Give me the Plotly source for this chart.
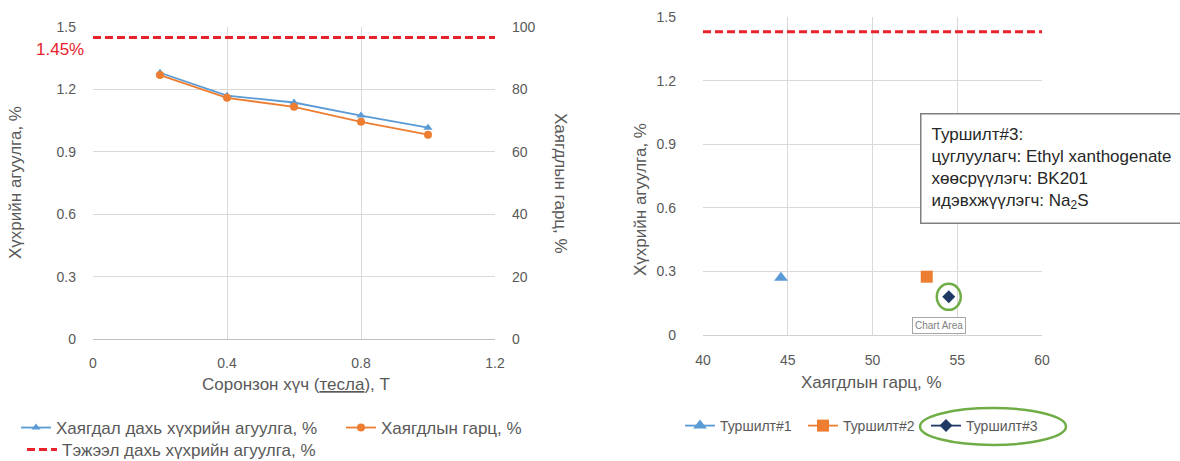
import plotly.graph_objects as go

W, H = 1180, 461

# ---- data: left panel (magnetic field strength series)
field_T = [0.2, 0.4, 0.6, 0.8, 1.0]
sulfur_tailings = [1.28, 1.17, 1.137, 1.074, 1.016]     # %, left axis
tailings_yield = [84.6, 77.3, 74.4, 69.6, 65.5]         # %, right axis
feed_sulfur = 1.45                                       # %
feed_x = [0, 1.2]

# ---- data: right panel (reagent tests)
test_names = ["Туршилт#1", "Туршилт#2", "Туршилт#3"]
test_yield = [44.6, 53.2, 54.5]
test_sulfur = [0.27, 0.275, 0.18]
feed_sulfur_right = 1.43
feed_x_right = [40, 60]

BLUE = "#5B9BD5"
ORANGE = "#ED7D31"
NAVY = "#1F3864"
RED = "#E8222B"
GREEN = "#70AD47"
GRID = "#D9D9D9"
TXT = "#595959"
FONT = "Liberation Sans, Arial, sans-serif"


def px(x):
    return x / W


def py(y):
    return 1 - y / H


fig = go.Figure()

# left panel traces
fig.add_trace(go.Scatter(
    x=field_T, y=sulfur_tailings, mode="lines+markers",
    name="Хаягдал дахь хүхрийн агуулга, %",
    line=dict(color=BLUE, width=1.8),
    marker=dict(symbol="triangle-up", size=8, color=BLUE),
    xaxis="x", yaxis="y", legend="legend"))
fig.add_trace(go.Scatter(
    x=field_T, y=tailings_yield, mode="lines+markers",
    name="Хаягдлын гарц, %",
    line=dict(color=ORANGE, width=1.8),
    marker=dict(symbol="circle", size=8, color=ORANGE),
    xaxis="x", yaxis="y2", legend="legend"))
fig.add_trace(go.Scatter(
    x=feed_x, y=[feed_sulfur] * len(feed_x), mode="lines",
    name="Тэжээл дахь хүхрийн агуулга, %",
    line=dict(color=RED, width=3, dash="8px,4px"),
    xaxis="x", yaxis="y", legend="legend3"))

# right panel traces (single points; line style shows in the legend)
symbols = ["triangle-up", "square", "diamond"]
colors = [BLUE, ORANGE, NAVY]
sizes = [12, 12, 10]
for i, name in enumerate(test_names):
    fig.add_trace(go.Scatter(
        x=[test_yield[i]], y=[test_sulfur[i]], mode="lines+markers",
        name=name,
        line=dict(color=colors[i], width=1.8),
        marker=dict(symbol=symbols[i], size=sizes[i], color=colors[i],
                    line=dict(width=0)),
        xaxis="x2", yaxis="y3", legend="legend2"))
fig.add_trace(go.Scatter(
    x=feed_x_right, y=[feed_sulfur_right] * 2, mode="lines",
    line=dict(color=RED, width=3, dash="8px,4px"),
    showlegend=False, xaxis="x2", yaxis="y3"))

tick_font = dict(family=FONT, size=14, color=TXT)
axis_common = dict(showgrid=True, gridcolor=GRID, gridwidth=1, zeroline=False,
                   tickfont=tick_font, ticks="", fixedrange=True,
                   automargin=False)

fig.update_layout(
    width=W, height=H,
    margin=dict(l=0, r=0, t=0, b=0, autoexpand=False),
    paper_bgcolor="white", plot_bgcolor="white",
    font=dict(family=FONT, size=14, color=TXT),
    xaxis=dict(domain=[px(93), px(495)], range=[0, 1.2], dtick=0.4,
               anchor="y", showline=True, linecolor="#BFBFBF",
               ticklabelstandoff=11, tickformat="~g", **axis_common),
    yaxis=dict(domain=[py(339), py(27)], range=[0, 1.5], dtick=0.3,
               anchor="x", ticklabelstandoff=16, tickformat="~g", **axis_common),
    yaxis2=dict(range=[0, 100], dtick=20, overlaying="y", side="right",
                anchor="x", showgrid=False, zeroline=False, tickfont=tick_font,
                ticklabelstandoff=16, fixedrange=True, automargin=False),
    xaxis2=dict(domain=[px(703), px(1042)], range=[40, 60], dtick=5,
                anchor="y3", showline=True, linecolor="#D0D0D0",
                ticklabelstandoff=12, **axis_common),
    yaxis3=dict(domain=[py(335), py(17)], range=[0, 1.5], dtick=0.3,
                anchor="x2", ticklabelstandoff=26, tickformat="~g", **axis_common),
    legend=dict(orientation="h", x=px(16), y=py(428), xanchor="left",
                yanchor="middle", font=dict(family=FONT, size=17, color=TXT),
                entrywidth=280, bgcolor="rgba(0,0,0,0)", itemclick=False),
    legend3=dict(orientation="h", x=px(22), y=py(450), xanchor="left",
                 yanchor="middle", font=dict(family=FONT, size=17, color=TXT),
                 bgcolor="rgba(0,0,0,0)", itemclick=False),
    legend2=dict(orientation="h", x=px(680), y=py(426), xanchor="left",
                 yanchor="middle", font=dict(family=FONT, size=14, color=TXT),
                 entrywidth=78, bgcolor="rgba(0,0,0,0)", itemclick=False),
    showlegend=True,
)


def note(x, y, text, **kw):
    d = dict(x=px(x), y=py(y), xref="paper", yref="paper", text=text,
             showarrow=False, xanchor="center", yanchor="middle")
    d.update(kw)
    return d


annotations = [
    # axis titles, left panel
    note(15, 183, "Хүхрийн агуулга, %", textangle=-90,
         font=dict(family=FONT, size=17, color=TXT)),
    note(561, 183, "Хаягдлын гарц, %", textangle=90,
         font=dict(family=FONT, size=17, color=TXT)),
    note(296, 384, "Соронзон хүч (<u>тесла</u>), Т",
         font=dict(family=FONT, size=17, color=TXT)),
    note(60, 50, "1.45%", font=dict(family=FONT, size=17, color=RED)),
    # axis titles, right panel
    note(640, 200, "Хүхрийн агуулга, %", textangle=-90,
         font=dict(family=FONT, size=17, color=TXT)),
    note(871, 382, "Хаягдлын гарц, %",
         font=dict(family=FONT, size=17, color=TXT)),
    # reagent description box
    note(920, 113, "Туршилт#3:<br>цуглуулагч: Ethyl xanthogenate<br>"
                   "хөөсрүүлэгч: BK201<br>идэвхжүүлэгч: Na<sub>2</sub>S",
         xanchor="left", yanchor="top", align="left",
         bordercolor="#7F7F7F", borderwidth=1.5, borderpad=10, bgcolor="white",
         font=dict(family=FONT, size=17, color="#262626")),
    note(939, 325, "Chart Area", bordercolor="#A6A6A6", borderwidth=1,
         borderpad=2, bgcolor="white",
         font=dict(family=FONT, size=10, color="#7F7F7F")),
]
fig.update_layout(annotations=annotations)

shapes = [
    # highlight around test 3 point
    dict(type="circle", xref="x2", yref="y3", xsizemode="pixel",
         ysizemode="pixel", xanchor=test_yield[2], yanchor=test_sulfur[2],
         x0=-12, x1=12, y0=-13, y1=13, line=dict(color=GREEN, width=2.5)),
    # highlight around its legend entry
    dict(type="circle", xref="paper", yref="paper",
         x0=px(920), x1=px(1066), y0=py(445), y1=py(408),
         line=dict(color=GREEN, width=2.5)),
]
fig.update_layout(shapes=shapes)

fig.write_html("out.html")
